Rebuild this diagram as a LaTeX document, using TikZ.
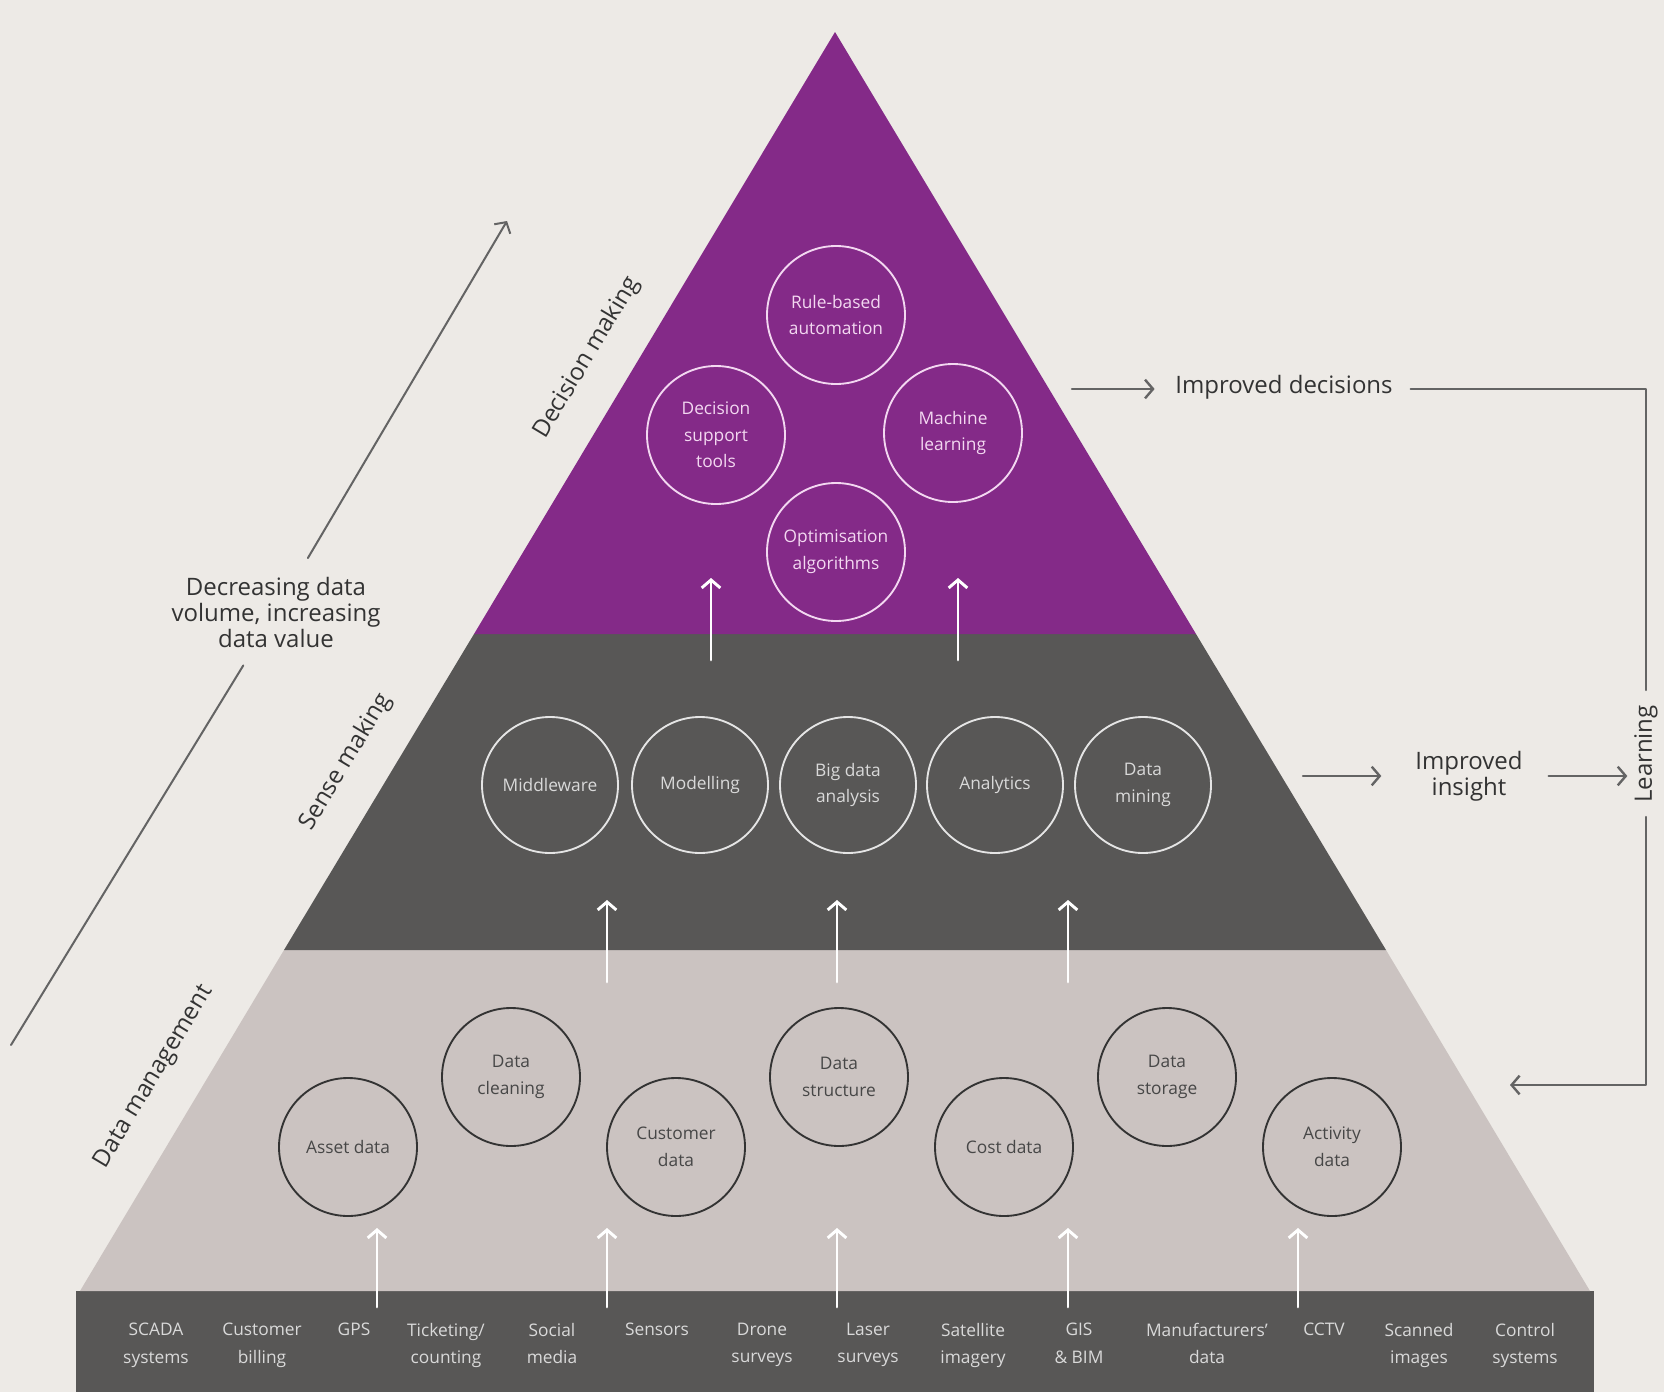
\documentclass[tikz,border=0pt]{standalone}
\usepackage{fontspec}
\setmainfont{Open Sans}
\usepackage{tikz}
\usetikzlibrary{arrows.meta}

\definecolor{bgcol}{HTML}{EDEAE6}
\definecolor{topcol}{HTML}{842A88}
\definecolor{midcol}{HTML}{585756}
\definecolor{lowcol}{HTML}{CBC3C1}
\definecolor{inkcol}{HTML}{333333}
\definecolor{linecol}{HTML}{646464}
\definecolor{pinkcol}{HTML}{F3D8F1}

\tikzset{
  topcirc/.style={circle,draw=pinkcol,line width=1.4pt,minimum size=103.5pt,align=center,
    text=pinkcol,font=\fontsize{13}{20}\selectfont},
  midcirc/.style={circle,draw=white!90!black,line width=1.4pt,minimum size=102pt,align=center,
    text=white!85!black,font=\fontsize{13}{20}\selectfont},
  lowcirc/.style={circle,draw=inkcol,line width=1.4pt,minimum size=103.5pt,align=center,
    text=inkcol!90!white,font=\fontsize{13}{20}\selectfont},
  srclabel/.style={anchor=north,inner sep=0pt,align=center,text=white!85!black,
    font=\fontsize{13}{20.5}\selectfont},
  sidelabel/.style={rotate=59,text=inkcol,font=\fontsize{18}{20}\selectfont},
  outlabel/.style={align=center,text=inkcol,font=\fontsize{18}{19.5}\selectfont},
  uparrow/.style={->,white,line width=2.2pt},
  loopline/.style={linecol,line width=1.8pt}
}

\begin{document}
\begin{tikzpicture}[line cap=round,line join=round,x=0.75pt,y=-0.75pt,
  >={Straight Barb[length=6pt,width=14pt]}]
\fill[bgcol] (0,0) rectangle (1664,1392);
\useasboundingbox (0,0) rectangle (1664,1392);

% pyramid
\fill[midcol] (76,1291) rectangle (1594,1392);
\fill[lowcol] (80,1291) -- (284,950) -- (1386,950) -- (1590,1291) -- cycle;
\fill[midcol] (284,950) -- (474,634) -- (1196,634) -- (1386,950) -- cycle;
\fill[topcol] (474,634) -- (835,32) -- (1196,634) -- cycle;

% decision making
\node[topcirc] (rule) at (836,315) {Rule-based\\automation};
\node[topcirc] (dst) at (716,435) {Decision\\support\\tools};
\node[topcirc] (ml) at (953,433) {Machine\\learning};
\node[topcirc] (opt) at (836,552) {Optimisation\\algorithms};

% sense making
\node[midcirc] (mw) at (550,785) {Middleware};
\node[midcirc] (mod) at (700,785) {Modelling};
\node[midcirc] (bda) at (848,785) {Big data\\analysis};
\node[midcirc] (ana) at (995,785) {Analytics};
\node[midcirc] (dmin) at (1143,785) {Data\\mining};

% data management
\node[lowcirc] (asset) at (348,1147) {Asset data};
\node[lowcirc] (clean) at (511,1077) {Data\\cleaning};
\node[lowcirc] (cust) at (676,1147) {Customer\\data};
\node[lowcirc] (struct) at (839,1077) {Data\\structure};
\node[lowcirc] (cost) at (1004,1147) {Cost data};
\node[lowcirc] (store) at (1167,1077) {Data\\storage};
\node[lowcirc] (act) at (1332,1147) {Activity\\data};

% sources
\node[srclabel] (scada) at (156,1323) {SCADA\\systems};
\node[srclabel] (bill) at (262,1323) {Customer\\billing};
\node[srclabel] (gps) at (354,1323) {GPS};
\node[srclabel] (tick) at (446,1323) {Ticketing/\\counting};
\node[srclabel] (soc) at (552,1323) {Social\\media};
\node[srclabel] (sens) at (657,1323) {Sensors};
\node[srclabel] (drone) at (762,1323) {Drone\\surveys};
\node[srclabel] (laser) at (868,1323) {Laser\\surveys};
\node[srclabel] (sat) at (973,1323) {Satellite\\imagery};
\node[srclabel] (gis) at (1079,1323) {GIS\\\& BIM};
\node[srclabel] (manu) at (1207,1323) {Manufacturers'\\data};
\node[srclabel] (cctv) at (1324,1323) {CCTV};
\node[srclabel] (scan) at (1419,1323) {Scanned\\images};
\node[srclabel] (ctrl) at (1525,1323) {Control\\systems};

% white arrows between the levels
\coordinate (b1) at (377,1307);  \coordinate (b1t) at (377,1228);
\coordinate (b2) at (607,1307);  \coordinate (b2t) at (607,1228);
\coordinate (b3) at (837,1307);  \coordinate (b3t) at (837,1228);
\coordinate (b4) at (1068,1307); \coordinate (b4t) at (1068,1228);
\coordinate (b5) at (1298,1307); \coordinate (b5t) at (1298,1228);
\draw[uparrow] (b1) -- (b1t);
\draw[uparrow] (b2) -- (b2t);
\draw[uparrow] (b3) -- (b3t);
\draw[uparrow] (b4) -- (b4t);
\draw[uparrow] (b5) -- (b5t);
\coordinate (m1) at (607,982);  \coordinate (m1t) at (607,900);
\coordinate (m2) at (837,982);  \coordinate (m2t) at (837,900);
\coordinate (m3) at (1068,982); \coordinate (m3t) at (1068,900);
\draw[uparrow] (m1) -- (m1t);
\draw[uparrow] (m2) -- (m2t);
\draw[uparrow] (m3) -- (m3t);
\coordinate (u1) at (711,660); \coordinate (u1t) at (711,578);
\coordinate (u2) at (958,660); \coordinate (u2t) at (958,578);
\draw[uparrow] (u1) -- (u1t);
\draw[uparrow] (u2) -- (u2t);

% level names
\node[sidelabel] (dmlab) at (587,358) {Decision making};
\node[sidelabel] (smlab) at (346,762) {Sense making};
\node[sidelabel] (dglab) at (154,1077) {Data management};

% volume / value arrow
\node[outlabel] (vol) at (276,612) {Decreasing data\\volume, increasing\\data value};
\coordinate (vlow) at (11,1045);
\coordinate (vhigh) at (507,221);
\draw[loopline,line width=1.5pt,shorten >=47pt] (vlow) -- (vol.center);
\draw[loopline,line width=1.5pt,->,shorten <=47pt] (vol.center) -- (vhigh);

% feedback loop
\node[outlabel] (dec) at (1284,387) {Improved decisions};
\node[outlabel] (ins) at (1469,776) {Improved\\insight};
\node[rotate=90,text=inkcol,font=\fontsize{18}{20}\selectfont] (learn) at (1646,754) {Learning};
\coordinate (decin) at (1072,389);
\coordinate (insin) at (1303,776);
\coordinate (loopmid) at (1646,776);
\coordinate (looptop) at (1646,690);
\coordinate (loopbot) at (1646,817);
\coordinate (back) at (1510,1085);
\draw[loopline,->,shorten >=12pt] (decin) -- (decin -| dec.west);
\draw[loopline,shorten <=10pt] (dec.east |- decin) -| (looptop);
\draw[loopline,->,shorten >=22pt] (insin) -- (ins.west);
\draw[loopline,->,shorten <=16pt,shorten >=14pt] (ins.east) -- (loopmid);
\draw[loopline,->] (loopbot) |- (back);
\end{tikzpicture}
\end{document}
